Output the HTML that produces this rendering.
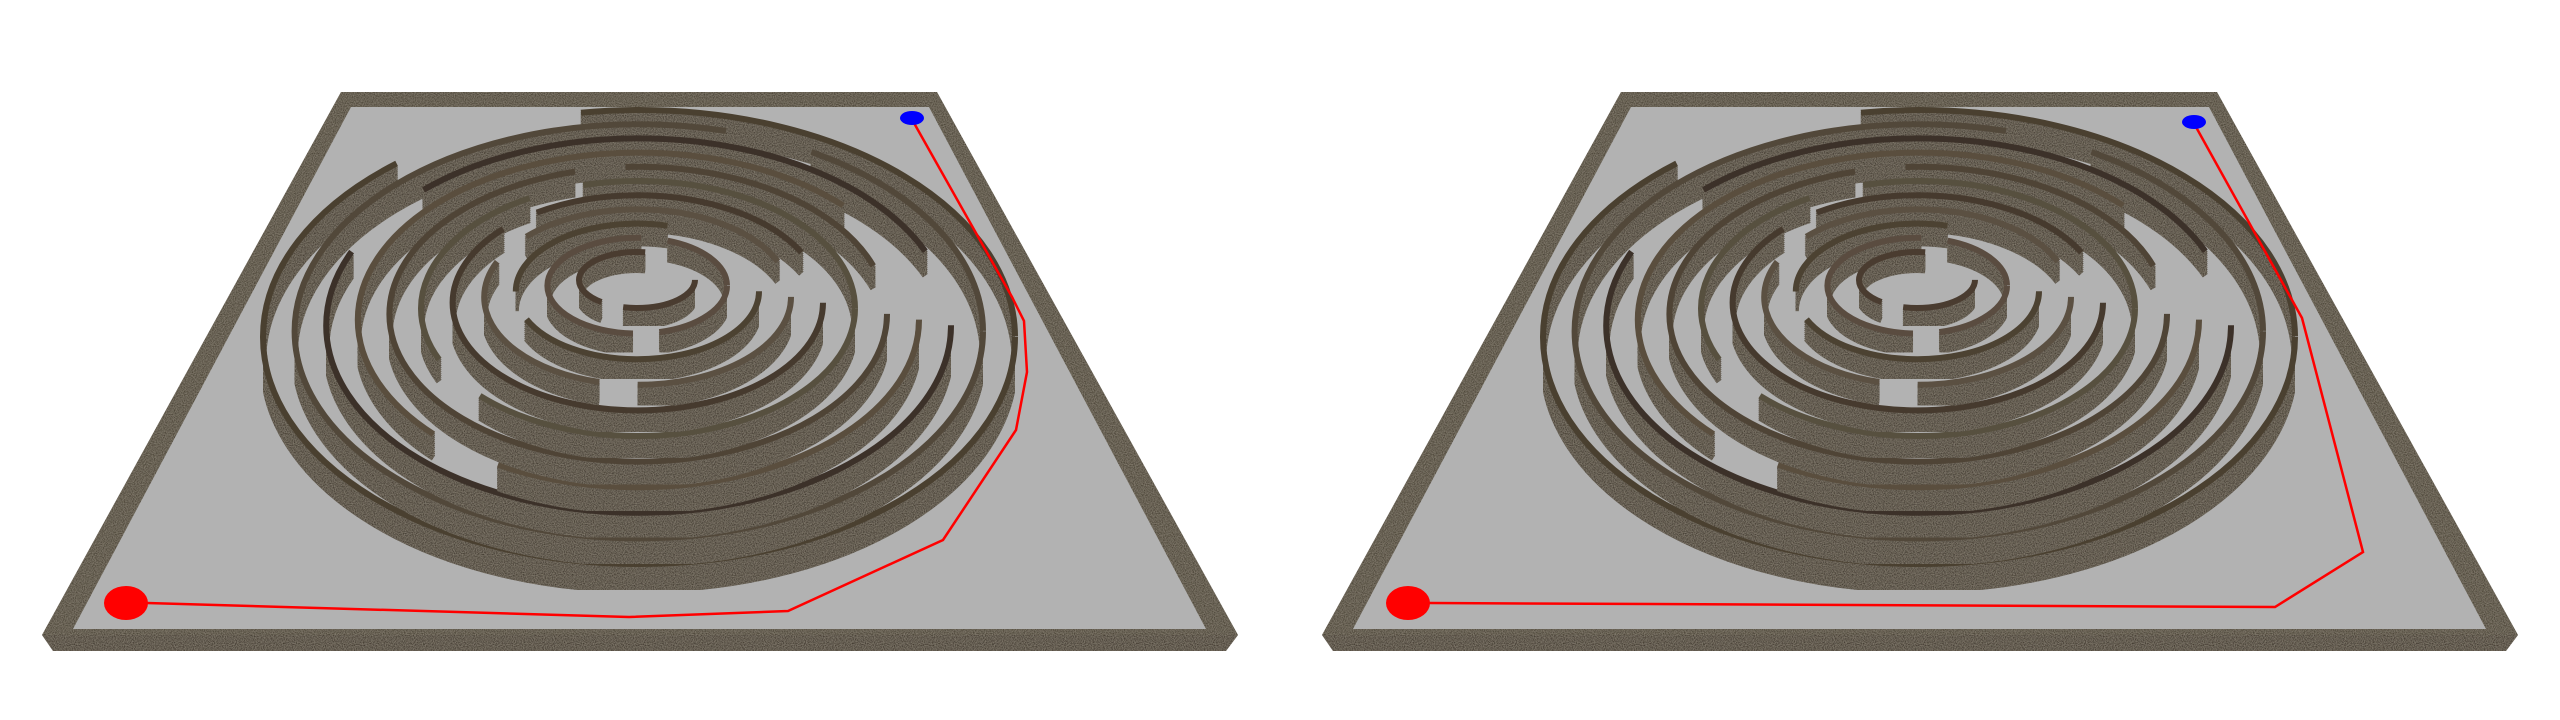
<!DOCTYPE html>
<html><head><meta charset="utf-8">
<style>
html,body{margin:0;padding:0;background:#fff;}
svg{display:block;}
</style></head>
<body>
<svg id="scene" width="2560" height="720" viewBox="0 0 2560 720" xmlns="http://www.w3.org/2000/svg">
<defs>
<filter id="grain" x="0" y="0" width="100%" height="100%">
<feTurbulence type="fractalNoise" baseFrequency="0.9" numOctaves="2" seed="3" result="n"/>
<feColorMatrix in="n" type="matrix" values="0 0 0 0 0.26  0 0 0 0 0.23  0 0 0 0 0.18  0 0 0 1.4 -0.3" result="c"/>
<feComposite in="c" in2="SourceGraphic" operator="in" result="t"/>
<feMerge><feMergeNode in="SourceGraphic"/><feMergeNode in="t"/></feMerge>
</filter>
</defs>
<g id="panels"></g>
</svg>
<script>
// Path waypoints (left panel, then right panel), in scene coords relative to panel
const leftPathX = [914, 1012, 1024, 1027, 1016, 943, 788, 629, 147];
const leftPathY = [123, 297, 321, 372, 430, 540, 611, 617, 603];
const rightPathX = [916, 1022, 1083, 995, 149];
const rightPathY = [127, 318, 552, 607, 603];
// Ring gap patterns (fractions of circumference: dash, gap, ...)
const ringGaps = [
 [30,8,40,22],[20,6,50,6,18],[45,5,30,20],[25,5,25,5,35,5],[60,4,30,6],
 [40,5,20,5,30],[70,4,22,4],[35,5,50,10],[55,6,34,5],[80,5,15],[62,10,28]
];
const ringTops = ['#4a3c30','#5a4c40','#4c4232','#5b5042','#463a2e','#57503f','#4f4436','#5a4e3e','#3c3129','#52483a','#4a4030'];
const NS='http://www.w3.org/2000/svg';
const root=document.getElementById('panels');
function mk(tag,attrs,parent){const e=document.createElementNS(NS,tag);for(const k in attrs)e.setAttribute(k,attrs[k]);(parent||root).appendChild(e);return e;}

function panel(ox, px, py, idx){
 const g=mk('g',{transform:'translate('+ox+',0)'});
 
 
 const base=mk('polygon',{points:'42,635 1238,635 1226,651 53,651',fill:'#3f382e',filter:'url(#grain)'},g);
 
 
 const rim=mk('polygon',{points:'341,92 937,92 1238,635 42,635',fill:'#4a4236',filter:'url(#grain)'},g);
 
 
 const floor=mk('polygon',{points:'351,107 929,107 1206,629 73,629',fill:'#b2b2b2'},g);
 
 
 const rings=mk('g',{},g);
 
 
 const N=ringGaps.length;
 for(let k=N-1;k>=0;k--){
  const t=k/(N-1);
  const cx=637+t*2, cy=280+t*57, rx=58+t*318, ry=28+t*199, h=18+t*8;
  const da=ringGaps[k].join(' ');
  const fg=mk('g',{},rings);
  for(let s=h;s>=1;s-=2){
   const e=mk('ellipse',{cx:cx,cy:cy+s,rx:rx,ry:ry,fill:'none',stroke:'#433b30','stroke-width':6,pathLength:100,'stroke-dasharray':da},fg);
   
   
  }
  fg.setAttribute('filter','url(#grain)');
  const top=mk('ellipse',{cx:cx,cy:cy,rx:rx,ry:ry,fill:'none',stroke:ringTops[k],'stroke-width':6,pathLength:100,'stroke-dasharray':da},rings);
  
  
 }
 let pts=px.map((x,i)=>x+','+py[i]).join(' ');
 const path=mk('polyline',{points:pts,fill:'none',stroke:'#ff0000','stroke-width':2.5},g);
 
 
 const goal=mk('ellipse',{cx:px[0]-2,cy:py[0]-5,rx:12,ry:7,fill:'#0000ff'},g);
 
 
 const start=mk('ellipse',{cx:px[px.length-1]-21,cy:py[py.length-1],rx:22,ry:17,fill:'#ff0000'},g);
 
 
}
panel(0,leftPathX,leftPathY,'left');
panel(1280,rightPathX,rightPathY,'right');
</script>
</body></html>
